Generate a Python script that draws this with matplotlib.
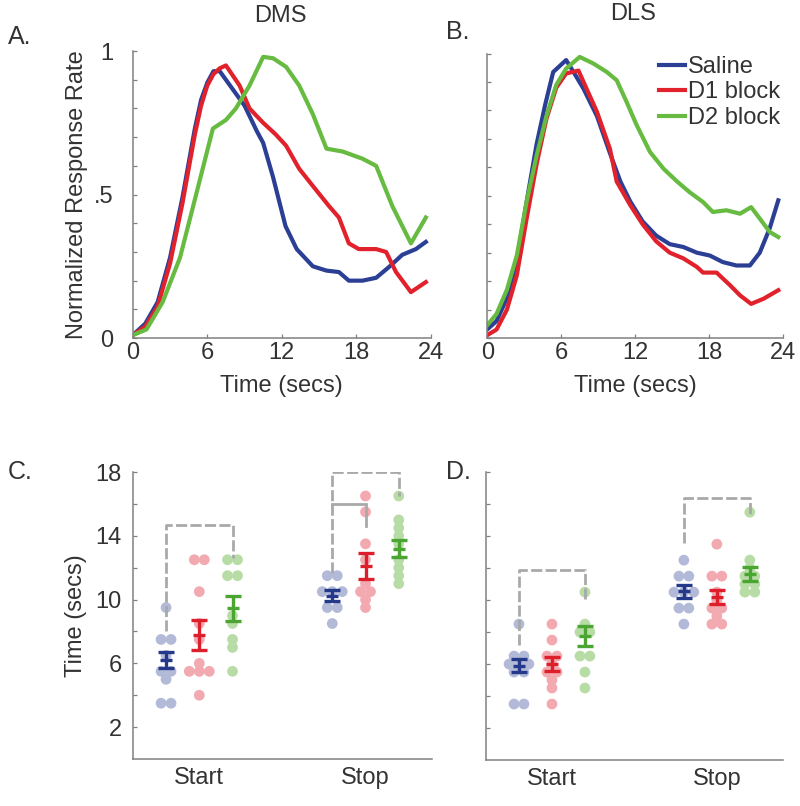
import numpy as np
import matplotlib
matplotlib.use('Agg')
from matplotlib import pyplot as plt
from matplotlib.ticker import MultipleLocator

plt.rcParams['font.family'] = ['Liberation Sans', 'DejaVu Sans']
plt.rcParams['text.color'] = '#333333'
plt.rcParams['axes.labelcolor'] = '#333333'
plt.rcParams['xtick.color'] = '#808080'
plt.rcParams['ytick.color'] = '#808080'
plt.rcParams['xtick.labelcolor'] = '#333333'
plt.rcParams['ytick.labelcolor'] = '#333333'

conditions = ['Saline', 'D1 block', 'D2 block']
line_colors = ['#2b3f94', '#e1222c', '#66bb40']
dot_colors = ['#b2bad8', '#f2a9b0', '#b8dca6']
err_colors = ['#24398a', '#dc1f2b', '#4ba531']

# ---- A. DMS response curves (time in secs, normalized rate)
dms_sal_t = [0, 1, 2, 3, 4, 5, 5.5, 6, 6.5, 7, 8, 9, 10, 10.5, 11.3, 12.3, 13.2,
             14.5, 15.6, 16.6, 17.4, 18.5, 19.6, 20.7, 21.7, 22.8, 23.6]
dms_sal_v = [.01, .05, .125, .28, .49, .73, .83, .89, .93, .93, .87, .81, .72, .68,
             .56, .39, .31, .25, .235, .23, .20, .20, .21, .25, .29, .31, .335]
dms_d1_t = [0, 1, 2, 3, 4, 5, 5.5, 6, 6.5, 7, 7.5, 8.6, 9.4, 10.5, 11.5, 12.35, 13.4,
            14.5, 15.8, 16.6, 17.4, 18.2, 19.6, 20.4, 21.2, 22.4, 23.6]
dms_d1_v = [.01, .04, .11, .26, .47, .71, .81, .88, .92, .94, .95, .88, .80, .75, .71,
            .67, .59, .53, .46, .42, .33, .31, .31, .30, .23, .16, .195]
dms_d2_t = [0, 1.1, 2.4, 3.8, 5.1, 6.45, 7.5, 8.3, 9.4, 10.5, 11.3, 12.35, 13.4, 14.5,
            15.6, 16.9, 18.5, 19.6, 20.9, 22.4, 23.6]
dms_d2_v = [.01, .03, .125, .28, .50, .73, .76, .80, .88, .98, .975, .945, .88, .78,
            .66, .65, .625, .60, .46, .33, .42]

# ---- B. DLS response curves
dls_sal_t = [0, .76, 1.6, 2.4, 3.2, 4.0, 4.7, 5.35, 6.4, 7.0, 7.8, 8.9, 9.95, 10.8, 11.6,
             12.6, 13.7, 14.8, 15.9, 17.0, 18.05, 19.1, 20.2, 21.3, 22.1, 22.9, 23.6]
dls_sal_v = [.03, .06, .14, .27, .48, .68, .82, .935, .977, .935, .877, .78, .65, .55, .48,
             .41, .36, .33, .32, .30, .29, .267, .255, .255, .30, .385, .484]
dls_d1_t = [0, .76, 1.6, 2.4, 3.2, 4.0, 4.8, 5.6, 6.4, 7.4, 8.05, 8.9, 9.95, 10.5, 11.6,
            12.6, 13.7, 14.8, 15.9, 17.0, 17.5, 18.6, 19.7, 20.5, 21.4, 22.4, 23.6]
dls_d1_v = [.01, .03, .10, .22, .42, .61, .77, .88, .93, .94, .877, .795, .665, .55, .467,
            .40, .34, .30, .28, .25, .23, .23, .185, .15, .12, .138, .168]
dls_d2_t = [0, .76, 1.6, 2.4, 3.2, 4.0, 4.8, 5.6, 6.4, 7.5, 8.6, 9.7, 10.5, 11.3, 12.1,
            13.2, 14.3, 15.4, 16.4, 17.5, 18.3, 19.4, 20.5, 21.4, 22.1, 22.9, 23.6]
dls_d2_v = [.045, .085, .17, .29, .48, .64, .78, .89, .947, .988, .965, .935, .906, .83,
            .75, .654, .595, .55, .513, .478, .443, .449, .437, .46, .42, .373, .355]

# ---- C. DMS start / stop times per subject
dms_start = [
    [9.5, 7.5, 7.5, 6.5, 5.5, 5.5, 5.0, 3.5, 3.5],
    [12.5, 12.5, 10.5, 8.5, 7.5, 6.0, 5.5, 5.5, 5.5, 4.0],
    [12.5, 12.5, 11.5, 11.5, 9.0, 8.5, 7.5, 7.0, 5.5],
]
dms_stop = [
    [11.5, 11.5, 10.5, 10.5, 10.5, 9.5, 9.5, 8.5],
    [16.5, 15.5, 13.5, 12.5, 11.0, 10.5, 10.5, 10.0, 9.5],
    [16.5, 15.0, 14.5, 14.0, 13.5, 12.5, 12.0, 11.5, 11.0],
]
dms_start_mean = [6.2, 7.8, 9.45]
dms_start_sem = [0.5, 0.95, 0.8]
dms_stop_mean = [10.25, 12.1, 13.2]
dms_stop_sem = [0.35, 0.8, 0.55]

# ---- D. DLS start / stop times per subject
dls_start = [
    [8.5, 6.5, 6.5, 6.0, 6.0, 6.0, 5.5, 5.5, 3.5, 3.5],
    [8.5, 7.5, 6.5, 6.5, 6.0, 5.5, 5.5, 5.0, 4.5, 3.5],
    [10.5, 8.5, 8.0, 8.0, 6.5, 6.5, 5.5, 4.5],
]
dls_stop = [
    [12.5, 11.5, 11.5, 10.5, 10.5, 10.5, 9.5, 9.5, 8.5],
    [13.5, 11.5, 11.5, 10.5, 10.0, 9.5, 9.5, 9.0, 8.5, 8.5],
    [15.5, 12.5, 12.0, 11.5, 11.5, 11.0, 11.0, 10.5, 10.5],
]
dls_start_mean = [5.9, 6.0, 7.75]
dls_start_sem = [0.4, 0.45, 0.65]
dls_stop_mean = [10.55, 10.2, 11.65]
dls_stop_sem = [0.4, 0.43, 0.45]

# significance brackets: (x left, x right, left leg bottom, top, right leg bottom, dashed)
dms_brackets = [(1, 3, 8.0, 14.7, 12.6, True),
                (6, 8, 11.7, 18.0, 16.5, True),
                (6, 7, 16.0, 16.0, 14.6, False)]
dls_brackets = [(1, 3, 7.2, 11.9, 10.1, True),
                (6, 8, 13.6, 16.4, 15.3, True)]

FS = 17
W, H = 800, 806
fig = plt.figure(figsize=(W / 100, H / 100), dpi=100)


def style_axes(ax):
    for s in ['top', 'right']:
        ax.spines[s].set_visible(False)
    for s in ['left', 'bottom']:
        ax.spines[s].set_color('#808080')
        ax.spines[s].set_linewidth(1.1)
    ax.tick_params(which='both', direction='in', length=3, width=0.9, labelsize=FS)


def curve_panel(rect, curves, show_ylabels):
    ax = fig.add_axes(rect)
    style_axes(ax)
    for (t, v), c, name in zip(curves, line_colors, conditions):
        ax.plot(t, v, color=c, lw=3.0, label=name)
    ax.set_xlim(0, 24)
    ax.set_ylim(0, 1)
    ax.set_xticks([0, 6, 12, 18, 24])
    ax.yaxis.set_minor_locator(MultipleLocator(0.1))
    ax.set_yticks([0, 0.5, 1])
    ax.tick_params(axis='x', pad=3)
    if show_ylabels:
        ax.set_yticklabels(['0', '.5', '1'])
        ax.tick_params(axis='y', pad=14)
    else:
        ax.set_yticklabels([])
    return ax


def beeswarm(vals, step=0.3):
    vals = np.asarray(vals, dtype=float)
    offs = np.zeros(len(vals))
    for u in np.unique(vals):
        idx = np.where(vals == u)[0]
        offs[idx] = (np.arange(len(idx)) - (len(idx) - 1) / 2) * step
    return offs


def dot_panel(rect, start, stop, s_mean, s_sem, e_mean, e_sem, brackets, show_ylabels):
    ax = fig.add_axes(rect)
    style_axes(ax)
    groups = [(1, start, s_mean, s_sem), (6, stop, e_mean, e_sem)]
    for base, data, means, sems in groups:
        for k in range(3):
            vals = data[k]
            ax.scatter(base + k + beeswarm(vals), vals, s=60, color=dot_colors[k],
                       edgecolors='none', zorder=2)
    for x1, x2, y1, top, y2, dashed in brackets:
        ls = (0, (4, 1.2)) if dashed else '-'
        ax.plot([x1, x1, x2, x2], [y1, top, top, y2], color='#a9a9a9', lw=2.0,
                ls=ls, zorder=3, solid_joinstyle='miter')
    for base, data, means, sems in groups:
        for k in range(3):
            ax.errorbar(base + k, means[k], yerr=sems[k], fmt='_', ms=9, mew=2.4,
                        color=err_colors[k], ecolor=err_colors[k], elinewidth=2.4,
                        capsize=5.5, capthick=2.4, zorder=4)
    ax.set_xlim(0, 9)
    ax.set_ylim(0, 18)
    ax.set_xticks([2, 7])
    ax.set_xticklabels(['Start', 'Stop'])
    ax.tick_params(axis='x', length=0, pad=6)
    ax.set_yticks([2, 6, 10, 14, 18])
    ax.set_yticks([4, 8, 12, 16], minor=True)
    if show_ylabels:
        ax.tick_params(axis='y', pad=8)
    else:
        ax.set_yticklabels([])
    return ax


axA = curve_panel([0.166, 0.5806, 0.3725, 0.356],
                  [(dms_sal_t, dms_sal_v), (dms_d1_t, dms_d1_v), (dms_d2_t, dms_d2_v)], True)
axA.set_ylabel('Normalized Response Rate', fontsize=FS, labelpad=4)
axA.set_xlabel('Time (secs)', fontsize=FS, labelpad=8)

axB = curve_panel([0.609, 0.5806, 0.37, 0.353],
                  [(dls_sal_t, dls_sal_v), (dls_d1_t, dls_d1_v), (dls_d2_t, dls_d2_v)], False)
axB.set_xlabel('Time (secs)', fontsize=FS, labelpad=8)
leg = axB.legend(loc='upper right', bbox_to_anchor=(1.02, 1.025), frameon=False, fontsize=FS,
                 handlelength=1.1, handletextpad=0.1, labelspacing=0.15, borderaxespad=0)

axC = dot_panel([0.166, 0.0583, 0.374, 0.356], dms_start, dms_stop, dms_start_mean,
                dms_start_sem, dms_stop_mean, dms_stop_sem, dms_brackets, True)
axC.set_ylabel('Time (secs)', fontsize=FS, labelpad=6)

axD = dot_panel([0.6075, 0.0571, 0.371, 0.357], dls_start, dls_stop, dls_start_mean,
                dls_start_sem, dls_stop_mean, dls_stop_sem, dls_brackets, False)

# titles and panel letters
fig.text(280 / W, 1 - 16 / H, 'DMS', fontsize=FS, ha='center', va='center')
fig.text(633 / W, 1 - 14 / H, 'DLS', fontsize=FS, ha='center', va='center')
fig.text(8 / W, 1 - 37 / H, 'A.', fontsize=FS + 1, ha='left', va='center')
fig.text(446 / W, 1 - 32 / H, 'B.', fontsize=FS + 1, ha='left', va='center')
fig.text(8 / W, 1 - 472 / H, 'C.', fontsize=FS + 1, ha='left', va='center')
fig.text(446 / W, 1 - 472 / H, 'D.', fontsize=FS + 1, ha='left', va='center')

fig.savefig('out.png', dpi=100)
